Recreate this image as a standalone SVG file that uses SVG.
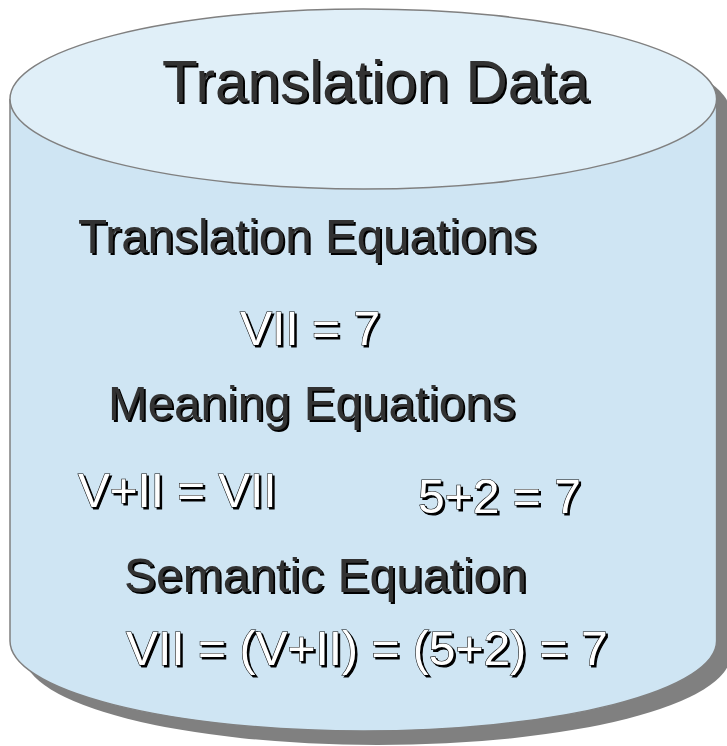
<svg xmlns="http://www.w3.org/2000/svg" width="727" height="746" viewBox="0 0 727 746">
<defs>
<filter id="shadow" x="-5%" y="-10%" width="115%" height="130%">
<feOffset in="SourceAlpha" dx="2" dy="2" result="off"/>
<feFlood flood-color="#000000"/>
<feComposite in2="off" operator="in" result="sh"/>
<feMerge><feMergeNode in="sh"/><feMergeNode in="SourceGraphic"/></feMerge>
</filter>
</defs>
<style>
.t{font-family:"Liberation Sans",Arial,sans-serif;filter:url(#shadow);}
.dark{fill:#333333;}
.out{fill:#ffffff;stroke:#000000;stroke-width:1.1;paint-order:stroke;}
</style>
<rect width="727" height="746" fill="#ffffff"/>
<g id="cylinder">
<path d="M24,113 L24,655 A353.3,90 0 0 0 730.6,655 L730.6,113 A353.3,90 0 0 0 24,113 Z" fill="#808080"/>
<path d="M10,99 L10,641 A353.3,90 0 0 0 716.6,641 L716.6,99" fill="#cfe5f3" stroke="#808080" stroke-width="1.5"/>
<ellipse cx="363.3" cy="99" rx="353.3" ry="90" fill="#e0eff8" stroke="#808080" stroke-width="1.5"/>
</g>
<g id="title">
<text class="t dark" x="162" y="102" font-size="58.5">Translation Data</text>
</g>
<g id="translation-equations">
<text class="t dark" x="78" y="253" font-size="47.6">Translation Equations</text>
<text class="t out" x="240" y="345" font-size="48">VII = 7</text>
</g>
<g id="meaning-equations">
<text class="t dark" x="108" y="420" font-size="47.6">Meaning Equations</text>
<text class="t out" x="78" y="507" font-size="47.6">V+II = VII</text>
<text class="t out" x="418" y="513" font-size="48">5+2 = 7</text>
</g>
<g id="semantic-equation">
<text class="t dark" x="124" y="592" font-size="48">Semantic Equation</text>
<text class="t out" x="126" y="665" font-size="48">VII = (V+II) = (5+2) = 7</text>
</g>
</svg>
